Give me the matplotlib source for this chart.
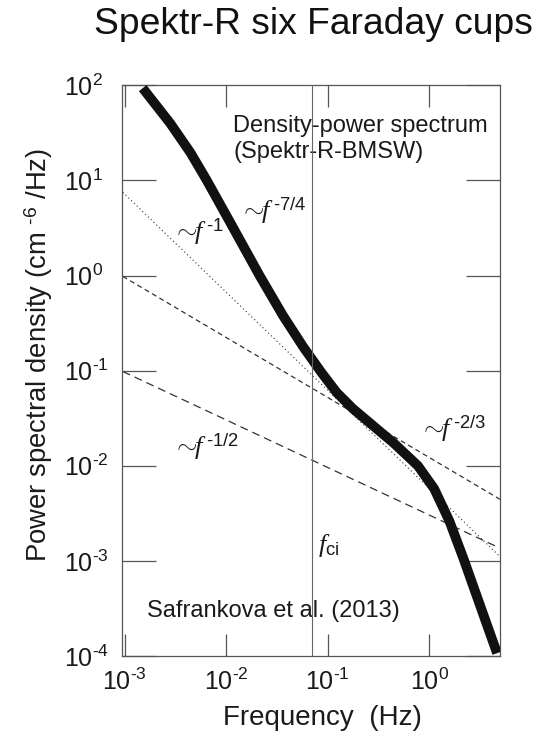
import matplotlib
matplotlib.use("Agg")
import matplotlib.pyplot as plt

plt.rcParams['font.family'] = ['Liberation Sans', 'DejaVu Sans']
plt.rcParams['mathtext.fontset'] = 'custom'
plt.rcParams['mathtext.rm'] = 'Liberation Sans'
plt.rcParams['mathtext.sf'] = 'Liberation Sans'
plt.rcParams['mathtext.it'] = 'Liberation Serif:italic'
plt.rcParams['mathtext.bf'] = 'Liberation Sans:bold'

# ---- data ----
freq = [0.00151, 0.00282, 0.00447, 0.00646, 0.01096, 0.02138, 0.03631,
        0.05754, 0.0871, 0.1230, 0.1778, 0.2818, 0.4467, 0.7762, 1.122,
        1.585, 2.188, 2.754, 4.677]
psd = [93.3, 39.8, 19.5, 10.0, 3.63, 1.00, 0.380,
       0.178, 0.0955, 0.0589, 0.0398, 0.0263, 0.0174, 0.0100, 0.00575,
       0.00263, 0.00105, 0.000525, 0.000107]

# reference power-law lines (end points)
f_m1_x = [0.00096, 4.82]
f_m1_y = [7.5, 0.00115]
f_m23_x = [0.00096, 5.0]
f_m23_y = [0.98, 0.00444]
f_m12_x = [0.00096, 4.65]
f_m12_y = [0.098, 0.00141]

f_ci = 0.0698

xticks = [1e-3, 1e-2, 1e-1, 1e0]
xtick_labels = [r'$\mathdefault{10^{\text{-}3}}$', r'$\mathdefault{10^{\text{-}2}}$',
                r'$\mathdefault{10^{\text{-}1}}$', r'$\mathdefault{10^{0}}$']
yticks = [1e-4, 1e-3, 1e-2, 1e-1, 1e0, 1e1, 1e2]
ytick_labels = [r'$\mathdefault{10^{\text{-}4}}$', r'$\mathdefault{10^{\text{-}3}}$',
                r'$\mathdefault{10^{\text{-}2}}$', r'$\mathdefault{10^{\text{-}1}}$',
                r'$\mathdefault{10^{0}}$', r'$\mathdefault{10^{1}}$',
                r'$\mathdefault{10^{2}}$']

W, H = 541, 732
fig = plt.figure(figsize=(W / 100, H / 100), dpi=100)
ax = fig.add_axes([122.3 / W, 1 - 656 / H, (500 - 122.3) / W, (656 - 85.3) / H])
ax.set_xscale('log')
ax.set_yscale('log')
ax.set_xlim(0.00095, 5.0)
ax.set_ylim(1e-4, 100)

lc = '#333333'
ax.plot(f_m1_x, f_m1_y, color=lc, lw=0.8, linestyle=(0, (1, 2.5)), zorder=2)
ax.plot(f_m23_x, f_m23_y, color=lc, lw=0.9, linestyle=(0, (4.0, 2.8)), zorder=2)
ax.plot(f_m12_x, f_m12_y, color=lc, lw=0.9, linestyle=(0, (6.4, 4.0)), zorder=2)
ax.plot(freq, psd, color='#111111', lw=7, solid_capstyle='butt',
        solid_joinstyle='round', zorder=3)
ax.axvline(f_ci, color='#666666', lw=0.8, zorder=5)

ax.set_xticks(xticks, xtick_labels)
ax.set_yticks(yticks, ytick_labels)
ax.minorticks_off()
ax.tick_params(axis='both', which='major', direction='in', top=True, right=True,
               color='#555555', width=0.9, labelsize=18, labelcolor='#1a1a1a')
ax.tick_params(axis='y', length=24.5, pad=42)
ax.tick_params(axis='x', length=16, pad=9)
for lab in ax.get_yticklabels():
    lab.set_horizontalalignment('left')
for s in ax.spines.values():
    s.set_color('#555555')
    s.set_linewidth(0.9)

tc = '#1a1a1a'
ax.text(0.0118, 32.5, 'Density-power spectrum', fontsize=17, color=tc,
        ha='left', va='baseline', zorder=4)
ax.text(0.0118, 17.3, '(Spektr-R-BMSW)', fontsize=17, color=tc,
        ha='left', va='baseline', zorder=4)
ax.text(0.01374, 3.93, r'$\sim\!\!f^{\,\text{-7/4}}$', fontsize=19, color=tc,
        ha='left', va='baseline', zorder=4)
ax.text(0.00298, 2.36, r'$\sim\!\!f^{\,\text{-1}}$', fontsize=19, color=tc,
        ha='left', va='baseline', zorder=2.5)
ax.text(0.0030, 0.01297, r'$\sim\!\!f^{\,\text{-1/2}}$', fontsize=19, color=tc,
        ha='left', va='baseline', zorder=4)
ax.text(0.815, 0.02004, r'$\sim\!\!f^{\,\text{-2/3}}$', fontsize=19, color=tc,
        ha='left', va='baseline', zorder=4)
ax.text(0.0805, 0.00124, r'$f_{\mathrm{ci}}$', fontsize=19, color=tc,
        ha='left', va='baseline', zorder=4)
ax.text(0.001655, 0.000257, 'Safrankova et al. (2013)', fontsize=17, color=tc,
        ha='left', va='baseline', zorder=4)

fig.text(313 / W, 1 - 34 / H, 'Spektr-R six Faraday cups', ha='center',
         va='baseline', fontsize=26.8, color='#111111')
fig.text(322 / W, 1 - 725 / H, 'Frequency  (Hz)', ha='center', va='baseline',
         fontsize=20, color=tc)
fig.text(39 / W, 1 - 355 / H, r'Power spectral density (cm $^{\text{-}6}$ /Hz)',
         rotation=90, ha='center', va='center', fontsize=19.8, color=tc)

fig.savefig('out.png', dpi=100)
